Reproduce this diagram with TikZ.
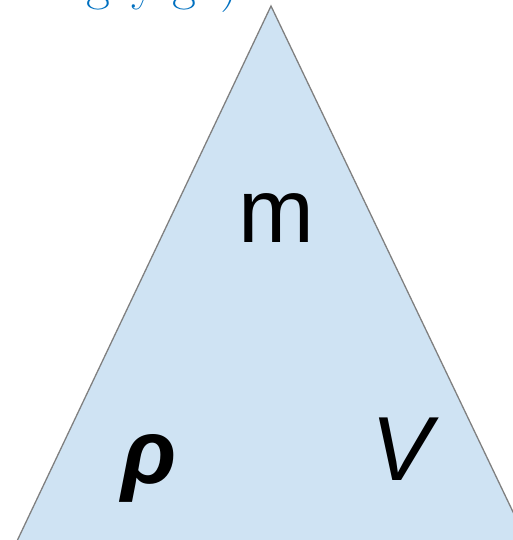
\documentclass[tikz,border=0pt]{standalone}
\usepackage{fontspec}
\setmainfont{Latin Modern Roman}
\setsansfont{Liberation Sans}
\usepackage{tikz}
\usetikzlibrary{positioning}
\definecolor{trifill}{HTML}{CFE3F3}
\definecolor{triedge}{HTML}{808080}
\definecolor{capblue}{HTML}{0070C0}

\begin{document}
\begin{tikzpicture}[x=1pt,y=-1pt,
  qty/.style={font=\sffamily\fontsize{91}{100}\selectfont,inner sep=0pt,text=black},
  captext/.style={font=\fontsize{52}{56}\selectfont,inner sep=0pt,text=capblue,anchor=base west}]
  \useasboundingbox (0,0) rectangle (512,540);
  % triangle
  \coordinate (apex) at (271,6);
  \coordinate (bl) at (8,560);
  \coordinate (br) at (536,560);
  \draw[triedge,fill=trifill,line width=1.3pt,line join=miter] (bl) -- (apex) -- (br);
  % quantities
  \node[qty] (mass) at (276.5,218.5) {m};
  \node[qty] (dens) at (149,468) {\textbf{\textit{ρ}}};
  \node[qty] (vol) at (405,449) {\textit{V}};
  % caption, cut off at the top
  \node[captext] (capt) at (35,0) {bogey ga)};
\end{tikzpicture}
\end{document}
